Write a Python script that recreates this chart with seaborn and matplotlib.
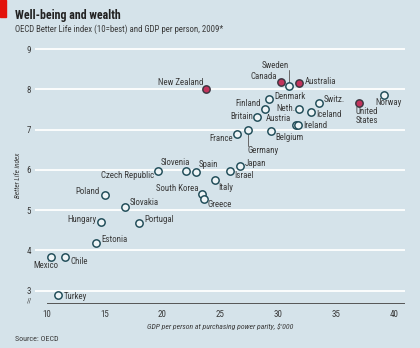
import matplotlib
matplotlib.use("Agg")
import matplotlib.pyplot as plt
from matplotlib import font_manager
from matplotlib.patches import Rectangle
import seaborn as sns
import pandas as pd

# OECD Better Life index vs GDP per person (PPP, $'000), 2009
countries = ["New Zealand", "Czech Republic", "Slovenia", "Spain", "Canada", "Sweden",
             "Australia", "Denmark", "Finland", "Britain", "Neth.", "Iceland", "Switz.",
             "Austria", "Ireland", "United\nStates", "Norway", "France", "Germany",
             "Belgium", "Japan", "Israel", "Italy", "South Korea", "Greece", "Poland",
             "Slovakia", "Hungary", "Portugal", "Estonia", "Mexico", "Chile", "Turkey"]
gdp = [23.8, 19.6, 22.0, 22.9, 30.2, 30.9, 31.8, 29.2, 28.9, 28.2, 31.8, 32.8, 33.5,
       31.5, 31.7, 37.0, 39.1, 26.4, 27.4, 29.4, 26.7, 25.8, 24.5, 23.4, 23.6, 15.0,
       16.8, 14.7, 18.0, 14.3, 10.4, 11.6, 11.0]
bli = [8.00, 5.96, 5.98, 5.94, 8.18, 8.07, 8.16, 7.76, 7.52, 7.31, 7.50, 7.44, 7.65,
       7.12, 7.10, 7.66, 7.86, 6.89, 6.99, 6.96, 6.09, 5.97, 5.75, 5.40, 5.28, 5.38,
       5.07, 4.70, 4.67, 4.18, 3.83, 3.83, 2.90]
highlight = ["New Zealand", "Canada", "Australia", "United\nStates"]
yticks = [3, 4, 5, 6, 7, 8, 9]
xticks = [10, 15, 20, 25, 30, 35, 40]

df = pd.DataFrame({"country": countries, "gdp": gdp, "bli": bli})
df["group"] = ["hi" if c in highlight else "lo" for c in countries]

# label placement: (dx, dy) in pixels, horizontal alignment, vertical alignment
label_pos = {
    "New Zealand": (-3, 6.6, "right", "center"),
    "Czech Republic": (-4, -4.6, "right", "center"),
    "Slovenia": (4, 8, "right", "center"),
    "Spain": (2.5, 8, "left", "center"),
    "Canada": (-3.5, 6, "right", "center"),
    "Sweden": (0.6, 21, "right", "center"),
    "Australia": (6, 1.7, "left", "center"),
    "Denmark": (5, 2, "left", "center"),
    "Finland": (-4.6, 4.7, "right", "center"),
    "Britain": (-4, 0.3, "right", "center"),
    "Neth.": (-3.6, 0.7, "right", "center"),
    "Iceland": (5.4, -3, "left", "center"),
    "Switz.": (5, 3.7, "left", "center"),
    "Austria": (-4.7, 6, "right", "center"),
    "Ireland": (5.6, -0.4, "left", "center"),
    "United\nStates": (-3.7, -4.5, "left", "top"),
    "Norway": (-8.3, -8, "left", "center"),
    "France": (-3.4, -4.7, "right", "center"),
    "Germany": (-0.6, -20.7, "left", "center"),
    "Belgium": (4.3, -6, "left", "center"),
    "Japan": (4.6, 2.3, "left", "center"),
    "Israel": (4.7, -5, "left", "center"),
    "Italy": (4, -7.7, "left", "center"),
    "South Korea": (-3.6, 5.7, "right", "center"),
    "Greece": (3.3, -6, "left", "center"),
    "Poland": (-5.3, 3, "right", "center"),
    "Slovakia": (4.3, 5, "left", "center"),
    "Hungary": (-4, 3, "right", "center"),
    "Portugal": (4.7, 3.6, "left", "center"),
    "Estonia": (5, 4, "left", "center"),
    "Mexico": (-5.4, -8.4, "center", "center"),
    "Chile": (5, -4, "left", "center"),
    "Turkey": (5.3, -1.7, "left", "center"),
}
# leader lines: near end, far end (pixels from the point, upward positive)
leaders = {"Sweden": (4, 16), "Germany": (-4, -16)}

BG = "#d5e3ea"
EDGE = "#1d4a56"
RED = "#c2345c"
TXT = "#3a3a3a"

sns.set_theme(style="white")
available = {f.name for f in font_manager.fontManager.ttflist}
base = "DejaVu Sans"
for cand in ["Roboto Condensed", "Liberation Sans Narrow", "Roboto"]:
    if cand in available:
        base = cand
        break
plt.rcParams["font.family"] = [base, "DejaVu Sans"]

fig = plt.figure(figsize=(4.2, 3.48), dpi=100, facecolor=BG)
ax = fig.add_axes([35 / 420, 45 / 348, 370 / 420, 256 / 348], facecolor=BG)
ax.set_xlim(8.99, 40.95)
ax.set_ylim(2.69, 9.05)

for y in yticks:
    ax.axhline(y, color="white", lw=1.3, zorder=0)

sns.scatterplot(data=df[df.group == "lo"], x="gdp", y="bli", ax=ax, s=28,
                color="#eef4f6", edgecolor=EDGE, linewidth=1.05, zorder=3, legend=False)
sns.scatterplot(data=df[df.group == "hi"], x="gdp", y="bli", ax=ax, s=28,
                color=RED, edgecolor="#3b3640", linewidth=1.05, zorder=3, legend=False)

to_data = ax.transData.inverted()
for c, x, y in zip(countries, gdp, bli):
    dx, dy, ha, va = label_pos[c]
    ax.annotate(c, (x, y), xytext=(dx, dy), textcoords="offset pixels",
                ha=ha, va=va, fontsize=6.4, color=TXT, zorder=4, linespacing=0.95)
    if c in leaders:
        near, far = leaders[c]
        px, py = ax.transData.transform((x, y))
        (_, y0), (_, y1) = to_data.transform([(px, py + near), (px, py + far)])
        ax.plot([x, x], [y0, y1], color="#666666", lw=0.7, zorder=2)

ax.set_xlim(8.99, 40.95)
ax.set_ylim(2.69, 9.05)
ax.set_xticks(xticks)
ax.set_yticks(yticks)
ax.set_xticklabels([str(t) for t in xticks], fontsize=6.5, color=TXT)
ax.set_yticklabels([str(t) for t in yticks], fontsize=6.5, color=TXT)
ax.tick_params(axis="x", direction="in", length=3, width=0.6, color="#555555", pad=5)
ax.tick_params(axis="y", length=0, pad=3)
for s in ["top", "right", "left"]:
    ax.spines[s].set_visible(False)
ax.spines["bottom"].set_color("#555555")
ax.spines["bottom"].set_linewidth(0.7)
ax.spines["bottom"].set_bounds(10, 40.9)
ax.set_xlabel("GDP per person at purchasing power parity, $'000", fontsize=5.6,
              style="italic", color=TXT, labelpad=3)
ax.set_ylabel("Better Life index", fontsize=5.2, style="italic", color=TXT, labelpad=4)

# axis break mark
fig.text(30 / 420, 1 - 301 / 348, "//", fontsize=5, color=TXT, ha="center", va="center")

fig.patches.append(Rectangle((0, 1 - 17 / 348), 6 / 420, 17 / 348,
                             transform=fig.transFigure, color="#e3120b"))
fig.text(15 / 420, 1 - 15 / 348, "Well-being and wealth", fontsize=8.6, fontweight="bold",
         color="#222222", ha="left", va="center")
fig.text(15 / 420, 1 - 29 / 348, "OECD Better Life index (10=best) and GDP per person, 2009*",
         fontsize=6.3, color=TXT, ha="left", va="center")
fig.text(15 / 420, 1 - 339 / 348, "Source: OECD", fontsize=5.8, color=TXT,
         ha="left", va="center")

fig.savefig("out.png", dpi=100, facecolor=BG)
